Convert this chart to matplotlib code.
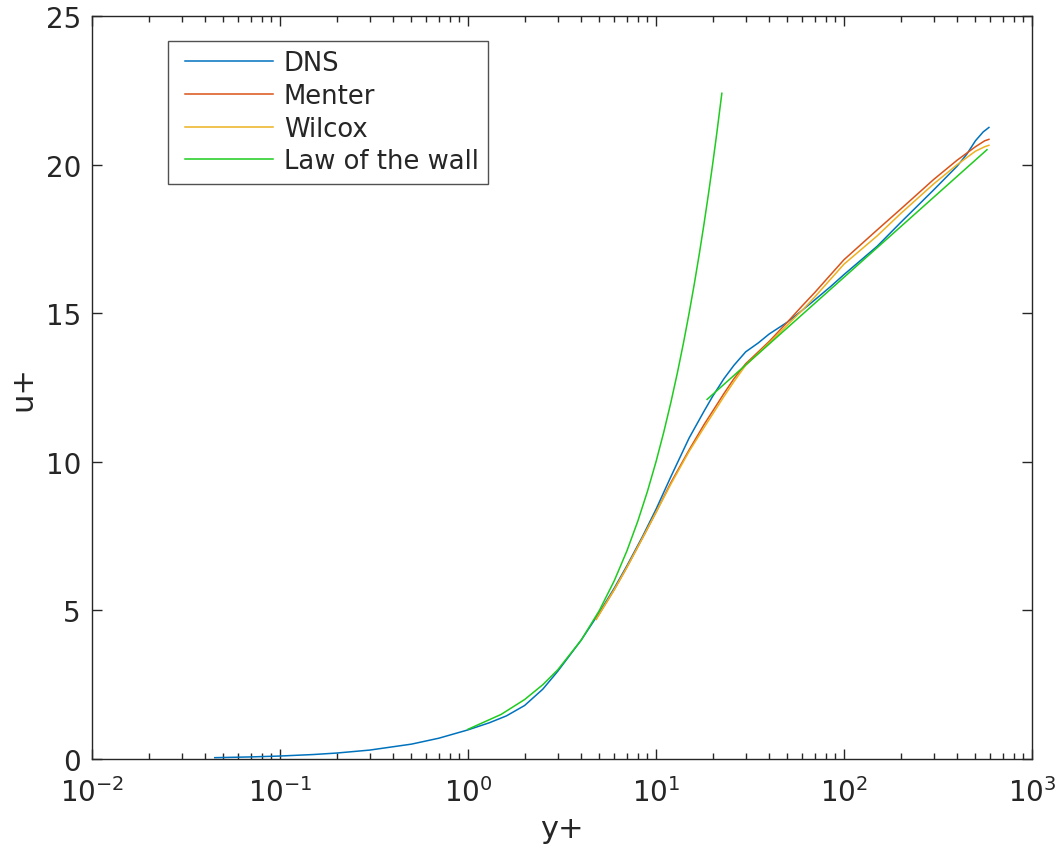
import matplotlib
matplotlib.use("Agg")
import matplotlib.pyplot as plt
from matplotlib.ticker import LogLocator, FixedLocator
from matplotlib.legend_handler import HandlerLine2D

# ---- data ----
dns_y = [0.045, 0.07, 0.1, 0.15, 0.2, 0.3, 0.5, 0.7, 1.0, 1.3, 1.6, 2.0, 2.5, 3.0, 4.0, 5.0, 6.0, 7.0,
         8.5, 10, 12, 15, 18, 20, 23, 26, 30, 35, 40, 50, 60, 70, 85, 100, 150, 200, 300, 400, 450, 500, 550, 590]
dns_u = [0.045, 0.07, 0.1, 0.15, 0.2, 0.3, 0.5, 0.7, 0.98, 1.22, 1.45, 1.8, 2.35, 2.95, 4.0, 4.93, 5.75, 6.5,
         7.5, 8.4, 9.5, 10.8, 11.7, 12.2, 12.8, 13.25, 13.7, 14.0, 14.3, 14.7, 15.1, 15.45, 15.9, 16.3, 17.25, 18.05,
         19.15, 19.95, 20.35, 20.8, 21.1, 21.25]

menter_y = [4.8, 6, 7, 8.5, 10, 12, 15, 18, 20, 23, 26, 30, 35, 40, 50, 60, 70, 85, 100, 150, 200, 300,
            400, 500, 560, 590]
menter_u = [4.7, 5.7, 6.45, 7.45, 8.3, 9.3, 10.4, 11.25, 11.7, 12.3, 12.8, 13.3, 13.7, 14.05, 14.7, 15.25,
            15.7, 16.3, 16.8, 17.8, 18.5, 19.5, 20.15, 20.6, 20.8, 20.85]

wilcox_y = [4.8, 6, 7, 8.5, 10, 12, 15, 18, 20, 23, 26, 30, 35, 40, 50, 60, 70, 85, 100, 150, 200, 300,
            400, 500, 560, 590]
wilcox_u = [4.7, 5.7, 6.45, 7.45, 8.3, 9.25, 10.35, 11.15, 11.6, 12.2, 12.7, 13.25, 13.65, 14.0, 14.6, 15.1,
            15.55, 16.15, 16.65, 17.6, 18.35, 19.35, 20.0, 20.45, 20.6, 20.65]

visc_y = [1.0, 1.5, 2.0, 2.5, 3.0, 4.0, 5.0, 6.0, 7.0, 8.0, 9.0, 10.0, 11.0, 12.0, 13.0, 14.0, 15.0,
          16.0, 17.0, 18.0, 19.0, 20.0, 21.0, 22.4]
visc_u = [1.0, 1.5, 2.0, 2.5, 3.0, 4.0, 5.0, 6.0, 7.0, 8.0, 9.0, 10.0, 11.0, 12.0, 13.0, 14.0, 15.0,
          16.0, 17.0, 18.0, 19.0, 20.0, 21.0, 22.4]

log_y = [18.7, 576]
log_u = [12.1, 20.5]

labels = ["DNS", "Menter", "Wilcox", "Law of the wall"]
colors = ["#0072BD", "#D95319", "#EDB120", "#1ecb1e"]

xticks = [1e-2, 1e-1, 1e0, 1e1, 1e2, 1e3]
yticks = [0, 5, 10, 15, 20, 25]

# ---- figure ----
plt.rcParams["font.family"] = ["DejaVu Sans"]
fig = plt.figure(figsize=(10.6, 8.54), dpi=100)
ax = fig.add_axes([92 / 1060, 1 - 760 / 854, 940 / 1060, 743 / 854])

lw = 1.1
ax.plot(dns_y, dns_u, color=colors[0], lw=lw, label=labels[0])
ax.plot(menter_y, menter_u, color=colors[1], lw=lw, label=labels[1])
ax.plot(wilcox_y, wilcox_u, color=colors[2], lw=lw, label=labels[2])
ax.plot(visc_y, visc_u, color=colors[3], lw=lw, label=labels[3])
ax.plot(log_y, log_u, color=colors[3], lw=lw)

ax.set_xscale("log")
ax.set_xlim(1e-2, 1e3)
ax.set_ylim(0, 25)
ax.xaxis.set_major_locator(FixedLocator(xticks))
ax.xaxis.set_minor_locator(LogLocator(base=10, subs=range(2, 10), numticks=20))
ax.yaxis.set_major_locator(FixedLocator(yticks))

ax.tick_params(which="both", direction="in", top=True, right=True, labelsize=20,
               colors="#262626", width=1.0)
ax.tick_params(which="major", length=7)
ax.tick_params(which="minor", length=4)
ax.tick_params(axis="x", which="major", pad=13)
ax.tick_params(axis="y", which="major", pad=8)
for s in ax.spines.values():
    s.set_color("#262626")
    s.set_linewidth(1.0)

ax.set_xlabel("y+", fontsize=22, color="#262626", labelpad=5)
ax.set_ylabel("u+", fontsize=22, color="#262626", labelpad=6)

hm = {l: HandlerLine2D(xpad=0.3) for l in ax.get_lines()[:4]}
leg = ax.legend(loc="upper left", bbox_to_anchor=(76 / 940, (760 - 42) / 743),
                borderaxespad=0, fontsize=18.6, frameon=True, fancybox=False,
                handlelength=3.7, handletextpad=0.42, labelspacing=0.26,
                borderpad=0.36, handler_map=hm)
leg.get_frame().set_edgecolor("#262626")
leg.get_frame().set_linewidth(1.0)
for t in leg.get_texts():
    t.set_color("#262626")

fig.savefig("out.png", dpi=100)
